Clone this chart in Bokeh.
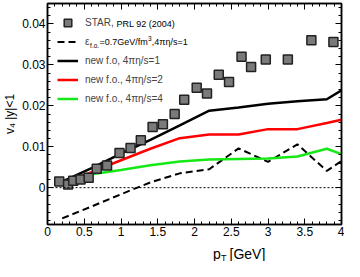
import numpy as np
from bokeh.plotting import figure
from bokeh.layouts import column
from bokeh.core.properties import value
from bokeh.models import (Range1d, LinearAxis, FixedTicker, Span, Label, Legend, LegendItem)
from bokeh.embed import file_html
from bokeh.resources import INLINE

# STAR data, PRL 92 (2004)
star_pt = [0.16, 0.28, 0.35, 0.45, 0.56, 0.67, 0.81, 0.98, 1.13, 1.27, 1.43, 1.57,
           1.73, 1.86, 2.03, 2.17, 2.33, 2.47, 2.64, 2.77, 2.97, 3.27, 3.59, 3.89]
star_v4 = [0.0015, 0.0008, 0.0017, 0.0020, 0.0024, 0.0046, 0.0054, 0.0085, 0.0097, 0.0116, 0.0148, 0.0155,
           0.0180, 0.0215, 0.0244, 0.0230, 0.0276, 0.0258, 0.0320, 0.0295, 0.0313, 0.0313, 0.0360, 0.0356]

# model curves
model_pt = [0.2, 0.6, 1.0, 1.4, 1.8, 2.2, 2.6, 3.0, 3.4, 3.8, 4.0]
old_fo_eta1 = [-0.0075, -0.0046, -0.0016, 0.0013, 0.0035, 0.0045, 0.0096, 0.0063, 0.0106, 0.0041, 0.0065]
new_fo_eta1 = [0.0015, 0.0048, 0.0083, 0.0117, 0.0152, 0.0188, 0.0196, 0.0205, 0.0211, 0.0216, 0.0238]
new_fo_eta2 = [0.0010, 0.0038, 0.0067, 0.0095, 0.0121, 0.0130, 0.0130, 0.0143, 0.0143, 0.0158, 0.0166]
new_fo_eta4 = [0.0010, 0.0033, 0.0043, 0.0055, 0.0064, 0.0069, 0.0070, 0.0071, 0.0076, 0.0095, 0.0082]

x_major = [0, 0.5, 1, 1.5, 2, 2.5, 3, 3.5, 4]
x_labels = ["0", "0.5", "1", "1.5", "2", "2.5", "3", "3.5", "4"]
x_minor = [round(i * 0.1, 2) for i in range(0, 41)]
y_major = [0, 0.01, 0.02, 0.03, 0.04]
y_labels = ["0", "0.01", "0.02", "0.03", "0.04"]
y_minor = [round(-0.008 + i * 0.002, 4) for i in range(0, 27)]

FONT = "Liberation Sans"
W, H = 344, 261
BL, BR, BT, BB = 42, 3, 3, 17
XH = 20            # strip for the x title
MH = H - XH
FW, FH = W - BL - BR, MH - BT - BB

p = figure(width=W, height=MH, output_backend="svg", toolbar_location=None, title=None,
           x_range=Range1d(0, 4), y_range=Range1d(-0.009, 0.045),
           x_axis_location=None, y_axis_location=None,
           min_border_left=BL, min_border_right=BR, min_border_top=BT, min_border_bottom=BB)
p.xgrid.visible = False
p.ygrid.visible = False
p.outline_line_color = "black"
p.outline_line_width = 1.5
p.background_fill_color = "white"
p.border_fill_color = "white"


def style_axis(ax, ticks, minor, labels, show_labels):
    ax.ticker = FixedTicker(ticks=ticks, minor_ticks=minor)
    ax.major_tick_in = 6
    ax.major_tick_out = 0
    ax.minor_tick_in = 3
    ax.minor_tick_out = 0
    ax.axis_line_color = "black"
    ax.axis_line_width = 1.5
    ax.major_label_text_font = FONT
    ax.major_label_text_font_size = "12px"
    ax.major_label_text_color = "black"
    if show_labels:
        ax.major_label_overrides = {t: l for t, l in zip(ticks, labels)}
        ax.major_label_standoff = 2
    else:
        ax.major_label_overrides = {t: "" for t in ticks}
        ax.major_label_standoff = 0


xb = LinearAxis(); style_axis(xb, x_major, x_minor, x_labels, True); p.add_layout(xb, "below")
xt = LinearAxis(); style_axis(xt, x_major, x_minor, x_labels, False); p.add_layout(xt, "above")
yl = LinearAxis(); style_axis(yl, y_major, y_minor, y_labels, True)
yl.axis_label = "v\u2084 |y|<1"
yl.axis_label_text_font = FONT
yl.axis_label_text_font_size = "12px"
yl.axis_label_text_font_style = "normal"
yl.axis_label_text_color = "black"
yl.axis_label_standoff = 2
p.add_layout(yl, "left")
yr = LinearAxis(); style_axis(yr, y_major, y_minor, y_labels, False); p.add_layout(yr, "right")

p.add_layout(Span(location=0, dimension="width", line_color="black", line_width=1, line_dash="2 2"))

r_old = p.line(model_pt, old_fo_eta1, line_color="black", line_width=2, line_dash="7 4")
r_e1 = p.line(model_pt, new_fo_eta1, line_color="black", line_width=2.5)
r_e2 = p.line(model_pt, new_fo_eta2, line_color="#ff0000", line_width=2.5)
r_e4 = p.line(model_pt, new_fo_eta4, line_color="#16e816", line_width=2.5)
r_star = p.scatter(star_pt, star_v4, marker="square", size=9, fill_color="#7a7a7a",
                   line_color="#222222", line_width=1.5)

legend = Legend(items=[
    LegendItem(label="STAR,", renderers=[r_star]),
    LegendItem(label="\u03b5", renderers=[r_old]),
    LegendItem(label="new f.o, 4\u03c0\u03b7/s=1", renderers=[r_e1]),
    LegendItem(label="new f.o., 4\u03c0\u03b7/s=2", renderers=[r_e2]),
    LegendItem(label="new f.o., 4\u03c0\u03b7/s=4", renderers=[r_e4]),
], location="top_left")
legend.margin = 5
legend.padding = 5
legend.spacing = 0
legend.glyph_width = 21
legend.glyph_height = 19
legend.label_height = 19
legend.label_standoff = 7
legend.label_text_font = FONT
legend.label_text_font_size = "10px"
legend.border_line_alpha = 0
legend.background_fill_alpha = 0
p.add_layout(legend)

TX = 38
row_c = [FH - (10 + 9.5 + 19 * i) for i in range(5)]


def lab(fig, text, x, y, size, angle=0, baseline="middle", align="left"):
    fig.add_layout(Label(x=x, y=y, x_units="screen", y_units="screen", text=text,
                         text_font=FONT, text_font_size=size, text_color="black",
                         angle=angle, text_baseline=baseline, text_align=align))


# legend rich text pieces
lab(p, "PRL 92 (2004)", TX + 31, row_c[0] - 0.5, "9px")
lab(p, "f.o.", TX + 4.6, row_c[1] - 3, "6.5px")
lab(p, "=0.7GeV/fm", TX + 14, row_c[1], "9px")
lab(p, "3", TX + 62.5, row_c[1] + 3.5, "6.5px")
lab(p, ",4\u03c0\u03b7/s=1", TX + 66.3, row_c[1], "9px")

# x axis title: p_T [GeV] (strip below the plot)
xs = figure(frame_width=W, frame_height=XH, output_backend="svg", toolbar_location=None,
            title=None, x_range=Range1d(0, W), y_range=Range1d(0, XH),
            x_axis_location=None, y_axis_location=None,
            min_border=0, min_border_left=0, min_border_right=0,
            min_border_top=0, min_border_bottom=0)
xs.xgrid.visible = False
xs.ygrid.visible = False
xs.outline_line_color = None
xs.border_fill_color = "white"


def txt(fig, x, y, text, size):
    fig.text(x=[x], y=[y], text=[text], text_font=value(FONT),
             text_font_size=size, text_color="black",
             text_baseline="alphabetic", text_align="left")


xc = BL + FW / 2
txt(xs, xc - 26, 8, "p", "14px")
txt(xs, xc - 18, 4, "T", "9px")
txt(xs, xc - 9.5, 8, "[GeV]", "14px")

layout = column(p, xs, spacing=0)
open("out.html", "w").write(file_html(layout, INLINE))
